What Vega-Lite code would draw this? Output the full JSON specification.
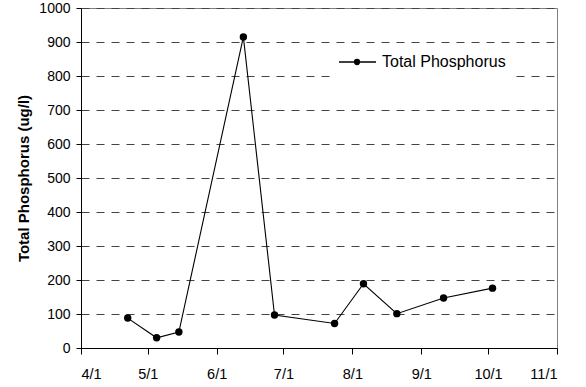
{
  "$schema": "https://vega.github.io/schema/vega-lite/v6.json",
  "width": 476,
  "height": 340,
  "autosize": {"type": "none"},
  "padding": {"left": 81, "top": 8, "right": 29, "bottom": 39},
  "background": "white",
  "data": {
    "values": [
      {"date": "2007-04-22", "tp": 88, "series": "Total Phosphorus"},
      {"date": "2007-05-05", "tp": 30, "series": "Total Phosphorus"},
      {"date": "2007-05-15", "tp": 47, "series": "Total Phosphorus"},
      {"date": "2007-06-13", "tp": 915, "series": "Total Phosphorus"},
      {"date": "2007-06-27", "tp": 97, "series": "Total Phosphorus"},
      {"date": "2007-07-24", "tp": 72, "series": "Total Phosphorus"},
      {"date": "2007-08-06", "tp": 189, "series": "Total Phosphorus"},
      {"date": "2007-08-21", "tp": 101, "series": "Total Phosphorus"},
      {"date": "2007-09-11", "tp": 147, "series": "Total Phosphorus"},
      {"date": "2007-10-03", "tp": 176, "series": "Total Phosphorus"}
    ]
  },
  "mark": {"type": "line", "color": "black", "strokeWidth": 1.1, "point": {"filled": true, "size": 55, "color": "black", "opacity": 1}},
  "encoding": {
    "x": {
      "field": "date",
      "type": "temporal",
      "scale": {
        "type": "utc",
        "nice": false,
        "domain": [
          {"year": 2007, "month": 4, "date": 1, "utc": true},
          {"year": 2007, "month": 11, "date": 1, "utc": true}
        ]
      },
      "axis": {
        "title": null,
        "format": "%-m/%-d",
        "tickCount": {"interval": "month", "step": 1},
        "grid": false,
        "tickSize": 6,
        "labelPadding": 13,
        "labelFontSize": 14.5
      }
    },
    "y": {
      "field": "tp",
      "type": "quantitative",
      "scale": {"domain": [0, 1000], "nice": false},
      "axis": {
        "title": "Total Phosphorus (ug/l)",
        "format": "d",
        "values": [0, 100, 200, 300, 400, 500, 600, 700, 800, 900, 1000],
        "grid": true,
        "gridDash": [8, 7],
        "gridColor": "#444",
        "gridWidth": 1.2,
        "tickSize": 5,
        "labelPadding": 6,
        "labelFontSize": 14,
        "titleFontSize": 15,
        "titleFontWeight": "bold",
        "titlePadding": 7
      }
    },
    "color": {
      "field": "series",
      "type": "nominal",
      "scale": {"range": ["black"]},
      "legend": {
        "title": null,
        "orient": "none",
        "legendX": 249,
        "legendY": 37,
        "padding": 8,
        "fillColor": "white",
        "strokeColor": null,
        "labelFontSize": 16,
        "labelOffset": 26,
        "symbolType": "M-1,0L3.625,0M0.94,0A0.31,0.31,0,1,1,1.56,0A0.31,0.31,0,1,1,0.94,0Z",
        "symbolSize": 256,
        "symbolFillColor": "black",
        "symbolStrokeColor": "black",
        "symbolStrokeWidth": 1.3,
        "symbolOpacity": 1
      }
    }
  },
  "config": {
    "font": "Liberation Sans",
    "view": {"stroke": "#808080", "strokeWidth": 1},
    "axis": {
      "domainColor": "black",
      "tickColor": "black",
      "labelColor": "black",
      "titleColor": "black",
      "labelFont": "Liberation Sans",
      "titleFont": "Liberation Sans"
    },
    "legend": {"labelFont": "Liberation Sans", "labelColor": "black"}
  }
}
